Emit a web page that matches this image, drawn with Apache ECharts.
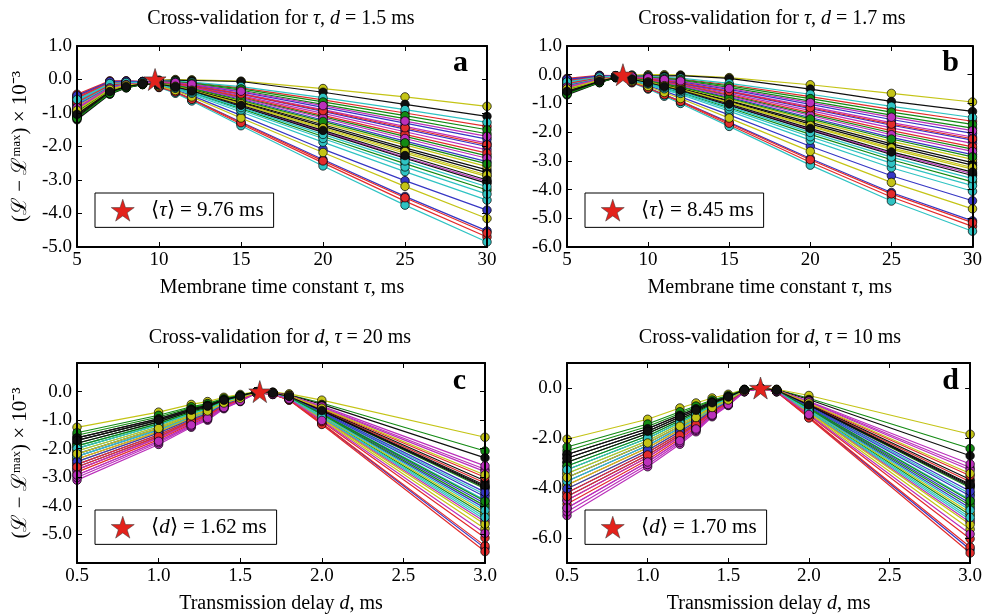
<!DOCTYPE html>
<html><head><meta charset="utf-8">
<script src="https://cdn.jsdelivr.net/npm/echarts@6/dist/echarts.min.js"></script>
<style>html,body{margin:0;padding:0;background:#fff}#c{width:985px;height:615px}</style>
</head><body><div id="c"></div>
<script>
// ---- data ----
const tauX = [5, 7, 8, 9, 10, 11, 12, 15, 20, 25, 30];
const delayX = [0.5, 1.0, 1.2, 1.3, 1.4, 1.5, 1.6, 1.7, 1.8, 2.0, 3.0];

// panel a: cross-validation for tau, d = 1.5 ms  (values at tauX)
const panelA = [
[-0.64,-0.15,-0.10,-0.08,-0.19,-0.31,-0.48,-1.07,-2.08,-3.02,-3.90],
[-1.12,-0.40,-0.23,-0.14,-0.06,-0.08,-0.13,-0.32,-0.74,-1.17,-1.62],
[-0.48,-0.06,-0.05,-0.06,-0.23,-0.39,-0.61,-1.33,-2.49,-3.63,-4.70],
[-0.60,-0.12,-0.09,-0.08,-0.24,-0.41,-0.64,-1.38,-2.58,-3.75,-4.85],
[-0.88,-0.27,-0.16,-0.11,-0.09,-0.13,-0.20,-0.48,-1.01,-1.56,-2.10],
[-1.08,-0.38,-0.22,-0.14,-0.02,0.00,-0.01,-0.05,-0.27,-0.52,-0.80],
[-1.20,-0.44,-0.25,-0.15,-0.03,-0.02,-0.03,-0.06,-0.38,-0.74,-1.10],
[-0.56,-0.10,-0.07,-0.07,-0.22,-0.37,-0.58,-1.27,-2.39,-3.49,-4.52],
[-1.00,-0.34,-0.20,-0.13,-0.10,-0.15,-0.23,-0.54,-1.11,-1.70,-2.28],
[-0.44,-0.04,-0.04,-0.06,-0.23,-0.37,-0.59,-1.29,-2.43,-3.53,-4.58],
[-0.68,-0.17,-0.11,-0.09,-0.17,-0.28,-0.44,-0.97,-1.87,-2.75,-3.60],
[-0.84,-0.25,-0.15,-0.11,-0.14,-0.22,-0.35,-0.79,-1.55,-2.32,-3.05],
[-0.96,-0.31,-0.18,-0.12,-0.20,-0.33,-0.52,-1.15,-2.18,-3.19,-4.15],
[-1.16,-0.42,-0.24,-0.15,-0.12,-0.19,-0.30,-0.67,-1.35,-2.04,-2.70],
[-0.72,-0.19,-0.12,-0.09,-0.11,-0.16,-0.26,-0.59,-1.21,-1.84,-2.45],
[-1.04,-0.36,-0.21,-0.13,-0.16,-0.25,-0.39,-0.87,-1.70,-2.51,-3.30],
[-0.52,-0.08,-0.06,-0.07,-0.05,-0.06,-0.09,-0.25,-0.61,-1.00,-1.40],
[-0.64,-0.15,-0.10,-0.08,-0.05,-0.05,-0.08,-0.21,-0.54,-0.90,-1.28],
[-0.92,-0.29,-0.17,-0.12,-0.08,-0.11,-0.17,-0.41,-0.90,-1.40,-1.90],
[-0.80,-0.23,-0.14,-0.10,-0.12,-0.18,-0.28,-0.64,-1.30,-1.95,-2.60],
[-1.12,-0.40,-0.23,-0.14,-0.15,-0.23,-0.36,-0.81,-1.58,-2.35,-3.10],
[-0.76,-0.21,-0.13,-0.10,-0.09,-0.12,-0.19,-0.44,-0.95,-1.48,-2.00],
[-0.96,-0.31,-0.18,-0.12,-0.06,-0.07,-0.11,-0.28,-0.67,-1.08,-1.50],
[-0.56,-0.10,-0.07,-0.07,-0.10,-0.14,-0.22,-0.51,-1.07,-1.64,-2.20],
[-0.72,-0.19,-0.12,-0.09,-0.16,-0.26,-0.41,-0.91,-1.76,-2.61,-3.42],
[-0.88,-0.27,-0.16,-0.11,-0.10,-0.15,-0.24,-0.56,-1.15,-1.76,-2.35],
[-1.00,-0.34,-0.20,-0.13,-0.13,-0.21,-0.33,-0.74,-1.47,-2.20,-2.90],
[-1.08,-0.38,-0.22,-0.14,-0.13,-0.20,-0.31,-0.70,-1.40,-2.10,-2.78],
[-0.48,-0.06,-0.05,-0.06,-0.07,-0.10,-0.15,-0.37,-0.83,-1.30,-1.78],
[-1.16,-0.42,-0.24,-0.15,-0.11,-0.17,-0.27,-0.62,-1.25,-1.89,-2.52],
[-0.68,-0.17,-0.11,-0.09,-0.08,-0.11,-0.18,-0.43,-0.93,-1.44,-1.95],
[-0.60,-0.12,-0.09,-0.08,-0.15,-0.24,-0.37,-0.84,-1.64,-2.43,-3.20],
[-0.84,-0.25,-0.15,-0.11,-0.07,-0.09,-0.14,-0.35,-0.78,-1.24,-1.70],
[-0.92,-0.29,-0.17,-0.12,-0.13,-0.20,-0.32,-0.72,-1.44,-2.15,-2.85],
[-1.04,-0.36,-0.21,-0.13,-0.14,-0.22,-0.34,-0.77,-1.52,-2.27,-3.00]
];

// panel b: cross-validation for tau, d = 1.7 ms
const panelB = [
[-0.28,-0.09,-0.05,-0.22,-0.38,-0.57,-0.77,-1.40,-2.49,-3.52,-4.39],
[-0.64,-0.25,-0.09,-0.06,-0.10,-0.15,-0.20,-0.44,-0.92,-1.41,-1.86],
[-0.16,-0.04,-0.04,-0.27,-0.48,-0.72,-0.96,-1.74,-3.05,-4.26,-5.28],
[-0.25,-0.08,-0.05,-0.28,-0.50,-0.75,-1.00,-1.80,-3.15,-4.40,-5.45],
[-0.46,-0.17,-0.07,-0.10,-0.16,-0.24,-0.32,-0.65,-1.25,-1.85,-2.39],
[-0.61,-0.24,-0.09,-0.01,0.00,0.00,-0.01,-0.10,-0.35,-0.65,-0.95],
[-0.70,-0.28,-0.10,-0.03,-0.04,-0.04,-0.03,-0.13,-0.50,-0.93,-1.28],
[-0.22,-0.06,-0.04,-0.26,-0.46,-0.69,-0.92,-1.66,-2.92,-4.10,-5.09],
[-0.55,-0.21,-0.08,-0.11,-0.18,-0.27,-0.37,-0.72,-1.37,-2.02,-2.59],
[-0.13,-0.02,-0.03,-0.26,-0.47,-0.70,-0.93,-1.69,-2.96,-4.15,-5.15],
[-0.31,-0.10,-0.05,-0.20,-0.35,-0.52,-0.69,-1.27,-2.28,-3.24,-4.06],
[-0.43,-0.16,-0.07,-0.16,-0.28,-0.42,-0.56,-1.05,-1.91,-2.74,-3.45],
[-0.52,-0.20,-0.08,-0.23,-0.41,-0.62,-0.83,-1.51,-2.67,-3.75,-4.67],
[-0.67,-0.27,-0.10,-0.14,-0.23,-0.35,-0.47,-0.90,-1.66,-2.41,-3.06],
[-0.34,-0.12,-0.06,-0.12,-0.20,-0.31,-0.41,-0.79,-1.49,-2.18,-2.78],
[-0.58,-0.23,-0.09,-0.18,-0.31,-0.46,-0.62,-1.15,-2.08,-2.96,-3.73],
[-0.19,-0.05,-0.04,-0.05,-0.07,-0.11,-0.15,-0.35,-0.76,-1.21,-1.62],
[-0.28,-0.09,-0.05,-0.04,-0.06,-0.09,-0.12,-0.30,-0.68,-1.10,-1.49],
[-0.49,-0.19,-0.08,-0.08,-0.14,-0.20,-0.27,-0.56,-1.11,-1.67,-2.17],
[-0.40,-0.15,-0.07,-0.13,-0.22,-0.33,-0.44,-0.85,-1.59,-2.32,-2.95],
[-0.64,-0.25,-0.09,-0.16,-0.28,-0.43,-0.57,-1.07,-1.94,-2.78,-3.51],
[-0.37,-0.13,-0.06,-0.09,-0.15,-0.22,-0.30,-0.60,-1.18,-1.76,-2.28],
[-0.52,-0.20,-0.08,-0.06,-0.09,-0.13,-0.17,-0.39,-0.83,-1.30,-1.73],
[-0.22,-0.06,-0.04,-0.10,-0.17,-0.26,-0.35,-0.69,-1.32,-1.95,-2.51],
[-0.34,-0.12,-0.06,-0.18,-0.32,-0.49,-0.65,-1.20,-2.16,-3.08,-3.86],
[-0.46,-0.17,-0.07,-0.11,-0.19,-0.29,-0.38,-0.75,-1.42,-2.09,-2.67],
[-0.55,-0.21,-0.08,-0.15,-0.26,-0.39,-0.52,-0.98,-1.80,-2.60,-3.29],
[-0.61,-0.24,-0.09,-0.14,-0.24,-0.37,-0.49,-0.93,-1.72,-2.48,-3.15],
[-0.16,-0.04,-0.04,-0.08,-0.12,-0.18,-0.24,-0.51,-1.03,-1.56,-2.04],
[-0.67,-0.27,-0.10,-0.12,-0.21,-0.32,-0.43,-0.82,-1.54,-2.24,-2.86],
[-0.31,-0.10,-0.05,-0.09,-0.14,-0.21,-0.28,-0.58,-1.15,-1.72,-2.23],
[-0.25,-0.08,-0.05,-0.17,-0.30,-0.44,-0.59,-1.11,-2.01,-2.87,-3.62],
[-0.43,-0.16,-0.07,-0.07,-0.11,-0.17,-0.22,-0.48,-0.97,-1.48,-1.95],
[-0.49,-0.19,-0.08,-0.15,-0.25,-0.38,-0.51,-0.96,-1.77,-2.55,-3.23],
[-0.58,-0.23,-0.09,-0.16,-0.27,-0.41,-0.54,-1.02,-1.87,-2.69,-3.39]
];

// panel c: cross-validation for d, tau = 20 ms (values at delayX)
const panelC = [
[-2.27,-1.34,-0.89,-0.71,-0.42,-0.24,-0.03,-0.10,-0.29,-1.12,-5.48],
[-1.53,-0.89,-0.57,-0.45,-0.26,-0.14,-0.01,-0.03,-0.11,-0.40,-2.08],
[-2.36,-1.40,-0.93,-0.74,-0.44,-0.25,-0.03,-0.10,-0.29,-1.11,-5.40],
[-2.18,-1.29,-0.85,-0.68,-0.40,-0.23,-0.03,-0.06,-0.20,-0.77,-3.80],
[-3.10,-1.85,-1.25,-1.00,-0.60,-0.35,-0.05,-0.04,-0.14,-0.54,-2.72],
[-1.25,-0.72,-0.45,-0.35,-0.20,-0.10,0.00,-0.02,-0.08,-0.30,-1.60],
[-1.62,-0.95,-0.61,-0.48,-0.28,-0.15,-0.01,-0.03,-0.12,-0.45,-2.32],
[-2.55,-1.51,-1.01,-0.81,-0.48,-0.28,-0.04,-0.07,-0.22,-0.83,-4.08],
[-1.81,-1.06,-0.69,-0.55,-0.32,-0.18,-0.02,-0.06,-0.18,-0.68,-3.40],
[-2.73,-1.62,-1.09,-0.87,-0.52,-0.30,-0.04,-0.10,-0.30,-1.15,-5.60],
[-2.08,-1.23,-0.81,-0.64,-0.38,-0.21,-0.02,-0.06,-0.19,-0.73,-3.60],
[-2.92,-1.74,-1.17,-0.94,-0.56,-0.33,-0.05,-0.04,-0.15,-0.56,-2.80],
[-2.45,-1.45,-0.97,-0.77,-0.46,-0.26,-0.03,-0.08,-0.26,-0.98,-4.80],
[-1.71,-1.00,-0.65,-0.51,-0.30,-0.16,-0.01,-0.05,-0.17,-0.67,-3.32],
[-2.64,-1.57,-1.05,-0.84,-0.50,-0.29,-0.04,-0.07,-0.21,-0.79,-3.92],
[-1.99,-1.17,-0.77,-0.61,-0.36,-0.20,-0.02,-0.07,-0.23,-0.88,-4.32],
[-2.82,-1.68,-1.13,-0.90,-0.54,-0.31,-0.04,-0.05,-0.17,-0.64,-3.20],
[-1.90,-1.12,-0.73,-0.58,-0.34,-0.19,-0.02,-0.08,-0.24,-0.91,-4.48],
[-3.01,-1.79,-1.21,-0.97,-0.58,-0.34,-0.05,-0.04,-0.14,-0.51,-2.60],
[-2.36,-1.40,-0.93,-0.74,-0.44,-0.25,-0.03,-0.07,-0.23,-0.86,-4.24],
[-1.81,-1.06,-0.69,-0.55,-0.32,-0.18,-0.02,-0.06,-0.18,-0.67,-3.36],
[-2.18,-1.29,-0.85,-0.68,-0.40,-0.23,-0.03,-0.06,-0.19,-0.74,-3.68],
[-1.44,-0.83,-0.53,-0.42,-0.24,-0.13,-0.01,-0.07,-0.21,-0.81,-4.00],
[-2.55,-1.51,-1.01,-0.81,-0.48,-0.28,-0.04,-0.09,-0.27,-1.05,-5.12],
[-2.27,-1.34,-0.89,-0.71,-0.42,-0.24,-0.03,-0.07,-0.22,-0.84,-4.16],
[-2.73,-1.62,-1.09,-0.87,-0.52,-0.30,-0.04,-0.08,-0.24,-0.93,-4.56],
[-2.08,-1.23,-0.81,-0.64,-0.38,-0.21,-0.02,-0.08,-0.25,-0.95,-4.64],
[-1.62,-0.95,-0.61,-0.48,-0.28,-0.15,-0.01,-0.05,-0.16,-0.62,-3.12],
[-2.45,-1.45,-0.97,-0.77,-0.46,-0.26,-0.03,-0.06,-0.19,-0.71,-3.52],
[-1.90,-1.12,-0.73,-0.58,-0.34,-0.19,-0.02,-0.06,-0.20,-0.78,-3.84],
[-2.64,-1.57,-1.05,-0.84,-0.50,-0.29,-0.04,-0.05,-0.16,-0.60,-3.00],
[-1.99,-1.17,-0.77,-0.61,-0.36,-0.20,-0.02,-0.08,-0.23,-0.90,-4.40],
[-2.92,-1.74,-1.17,-0.94,-0.56,-0.33,-0.05,-0.09,-0.26,-1.01,-4.96],
[-2.18,-1.29,-0.85,-0.68,-0.40,-0.23,-0.03,-0.05,-0.15,-0.58,-2.92],
[-1.71,-1.00,-0.65,-0.51,-0.30,-0.16,-0.01,-0.05,-0.17,-0.66,-3.28]
];

// panel d: cross-validation for d, tau = 10 ms
const panelD = [
[-3.73,-2.30,-1.60,-1.23,-0.81,-0.50,-0.11,-0.03,-0.15,-1.17,-6.46],
[-2.51,-1.54,-1.02,-0.77,-0.51,-0.32,-0.07,-0.01,-0.06,-0.41,-2.42],
[-3.88,-2.39,-1.67,-1.29,-0.85,-0.52,-0.11,-0.03,-0.15,-1.16,-6.36],
[-3.58,-2.20,-1.53,-1.18,-0.78,-0.48,-0.10,-0.02,-0.11,-0.80,-4.46],
[-5.10,-3.15,-2.25,-1.75,-1.15,-0.70,-0.15,-0.01,-0.08,-0.55,-3.18],
[-2.05,-1.25,-0.80,-0.60,-0.40,-0.25,-0.05,0.00,-0.05,-0.30,-1.85],
[-2.66,-1.63,-1.09,-0.83,-0.55,-0.34,-0.07,-0.01,-0.07,-0.46,-2.71],
[-4.19,-2.58,-1.82,-1.41,-0.93,-0.57,-0.12,-0.02,-0.11,-0.86,-4.80],
[-2.97,-1.82,-1.24,-0.95,-0.63,-0.39,-0.08,-0.01,-0.10,-0.71,-3.99],
[-4.49,-2.77,-1.96,-1.52,-1.00,-0.61,-0.13,-0.03,-0.15,-1.20,-6.60],
[-3.42,-2.11,-1.45,-1.12,-0.74,-0.45,-0.10,-0.02,-0.10,-0.75,-4.23],
[-4.80,-2.96,-2.11,-1.64,-1.08,-0.66,-0.14,-0.01,-0.08,-0.57,-3.28],
[-4.03,-2.49,-1.74,-1.35,-0.89,-0.54,-0.12,-0.02,-0.13,-1.02,-5.65],
[-2.81,-1.73,-1.16,-0.89,-0.59,-0.36,-0.08,-0.01,-0.09,-0.69,-3.89],
[-4.34,-2.68,-1.89,-1.46,-0.96,-0.59,-0.13,-0.02,-0.11,-0.82,-4.61],
[-3.27,-2.01,-1.38,-1.06,-0.70,-0.43,-0.09,-0.02,-0.12,-0.91,-5.08],
[-4.64,-2.87,-2.03,-1.58,-1.04,-0.63,-0.14,-0.01,-0.09,-0.66,-3.75],
[-3.12,-1.92,-1.31,-1.00,-0.66,-0.41,-0.09,-0.02,-0.12,-0.95,-5.27],
[-4.95,-3.06,-2.18,-1.69,-1.11,-0.68,-0.15,-0.01,-0.08,-0.53,-3.04],
[-3.88,-2.39,-1.67,-1.29,-0.85,-0.52,-0.11,-0.02,-0.12,-0.89,-4.99],
[-2.97,-1.82,-1.24,-0.95,-0.63,-0.39,-0.08,-0.01,-0.09,-0.70,-3.94],
[-3.58,-2.20,-1.53,-1.18,-0.78,-0.48,-0.10,-0.02,-0.10,-0.77,-4.32],
[-2.36,-1.44,-0.95,-0.72,-0.48,-0.30,-0.06,-0.02,-0.11,-0.84,-4.70],
[-4.19,-2.58,-1.82,-1.41,-0.93,-0.57,-0.12,-0.03,-0.14,-1.09,-6.03],
[-3.73,-2.30,-1.60,-1.23,-0.81,-0.50,-0.11,-0.02,-0.11,-0.88,-4.89],
[-4.49,-2.77,-1.96,-1.52,-1.00,-0.61,-0.13,-0.02,-0.12,-0.97,-5.37],
[-3.42,-2.11,-1.45,-1.12,-0.74,-0.45,-0.10,-0.02,-0.13,-0.98,-5.46],
[-2.66,-1.63,-1.09,-0.83,-0.55,-0.34,-0.07,-0.01,-0.09,-0.64,-3.66],
[-4.03,-2.49,-1.74,-1.35,-0.89,-0.54,-0.12,-0.02,-0.10,-0.73,-4.13],
[-3.12,-1.92,-1.31,-1.00,-0.66,-0.41,-0.09,-0.02,-0.11,-0.80,-4.51],
[-4.34,-2.68,-1.89,-1.46,-0.96,-0.59,-0.13,-0.01,-0.09,-0.62,-3.51],
[-3.27,-2.01,-1.38,-1.06,-0.70,-0.43,-0.09,-0.02,-0.12,-0.93,-5.18],
[-4.80,-2.96,-2.11,-1.64,-1.08,-0.66,-0.14,-0.03,-0.13,-1.06,-5.84],
[-3.58,-2.20,-1.53,-1.18,-0.78,-0.48,-0.10,-0.01,-0.08,-0.60,-3.42],
[-2.81,-1.73,-1.16,-0.89,-0.59,-0.36,-0.08,-0.01,-0.09,-0.68,-3.85]
];

const starPoints = [[9.76, 0], [8.45, 0], [1.62, 0], [1.70, 0]];
const starLabels = ['⟨τ⟩ = 9.76 ms', '⟨τ⟩ = 8.45 ms', '⟨d⟩ = 1.62 ms', '⟨d⟩ = 1.70 ms'];
const panelTitles = [
  'Cross-validation for {i|τ}, {i|d} = 1.5 ms',
  'Cross-validation for {i|τ}, {i|d} = 1.7 ms',
  'Cross-validation for {i|d}, {i|τ} = 20 ms',
  'Cross-validation for {i|d}, {i|τ} = 10 ms'
];
const panelLetters = ['a', 'b', 'c', 'd'];
const xNames = ['Membrane time constant {i|τ}, ms', 'Membrane time constant {i|τ}, ms',
                'Transmission delay {i|d}, ms', 'Transmission delay {i|d}, ms'];
const yName = '(ℒ − ℒᵐᵃˣ) × 10⁻³';
const xRanges = [[5, 30, 5], [5, 30, 5], [0.5, 3.0, 0.5], [0.5, 3.0, 0.5]];
const yRanges = [[-5, 1], [-6, 1], [-6, 1], [-7, 1]];
const yTickValues = [
  [-5, -4, -3, -2, -1, 0, 1],
  [-6, -5, -4, -3, -2, -1, 0, 1],
  [-5, -4, -3, -2, -1, 0],
  [-6, -4, -2, 0]
];

// ---- styling / layout ----
const COLORS = ['#3636c4', '#138a13', '#e32c2c', '#2fc3c3', '#bb30bb', '#c4c416', '#101010'];
const STAR_COLOR = '#e3221c';
const FONT = 'Liberation Serif';
const FS = 20;
const grids = [
  {left: 77, top: 46, width: 410, height: 201},
  {left: 567, top: 46, width: 410, height: 201},
  {left: 77, top: 363, width: 408, height: 201},
  {left: 567, top: 363, width: 408, height: 201}
];
const STAR = 'path://M50,0 L61.2,34.5 L97.6,34.5 L68.2,55.9 L79.4,90.5 L50,69.1 L20.6,90.5 L31.8,55.9 L2.4,34.5 L38.8,34.5 Z';
const italic = {fontStyle: 'italic', fontFamily: FONT, fontSize: FS, color: '#000'};

const xAxes = [], yAxes = [], series = [], legends = [], graphics = [];
const panels = [[tauX, panelA], [tauX, panelB], [delayX, panelC], [delayX, panelD]];

panels.forEach(([xs, rows], p) => {
  const [xmin, xmax, xint] = xRanges[p];
  const [ymin, ymax] = yRanges[p];
  const isDelay = p >= 2;
  const tickCommon = {show: true, inside: true, length: 5, lineStyle: {color: '#000', width: 1}};
  const border = {show: true, onZero: false, lineStyle: {color: '#000', width: 2}};
  xAxes.push({
    type: 'value', gridIndex: p, min: xmin, max: xmax, interval: xint, position: 'bottom', z: 10,
    axisLine: border, axisTick: tickCommon, splitLine: {show: false},
    axisLabel: {color: '#000', fontFamily: FONT, fontSize: 19, margin: 4,
      formatter: v => isDelay ? v.toFixed(1) : String(v)},
    name: xNames[p], nameLocation: 'middle', nameGap: 31,
    nameTextStyle: {color: '#000', fontFamily: FONT, fontSize: FS, rich: {i: italic}}
  });
  yAxes.push({
    type: 'value', gridIndex: p, min: ymin, max: ymax, position: 'left', z: 10,
    axisLine: border, splitLine: {show: false},
    axisTick: Object.assign({customValues: yTickValues[p]}, tickCommon),
    axisLabel: {color: '#000', fontFamily: FONT, fontSize: 19, margin: 5,
      customValues: yTickValues[p], formatter: v => v.toFixed(1)},
    name: (p % 2 === 0) ? yName : '', nameLocation: 'middle', nameGap: 46, nameRotate: 90,
    nameTextStyle: {color: '#000', fontFamily: FONT, fontSize: 21}
  });
  series.push(...rows.map((row, i) => {
    const c = COLORS[i % COLORS.length];
    return {
      type: 'line', xAxisIndex: p, yAxisIndex: p,
      data: xs.map((x, j) => [x, row[j]]),
      symbol: 'circle', symbolSize: 8.5, showSymbol: true, showAllSymbol: true,
      lineStyle: {color: c, width: 1.2}, itemStyle: {color: c, borderColor: '#000', borderWidth: 0.7},
      silent: true, animation: false, emphasis: {disabled: true}, z: 2
    };
  }));
  series.push({
    type: 'scatter', name: starLabels[p], xAxisIndex: p, yAxisIndex: p,
    data: [starPoints[p]], symbol: STAR, symbolSize: 22,
    itemStyle: {color: STAR_COLOR, opacity: 1, borderColor: '#333', borderWidth: 0.6},
    silent: true, animation: false, z: 5
  });
  const g = grids[p];
  legends.push({
    data: [{name: starLabels[p], icon: STAR,
      itemStyle: {color: STAR_COLOR, opacity: 1, borderColor: '#333', borderWidth: 0.5}}],
    left: g.left + 18, top: g.top + 147,
    orient: 'horizontal', selectedMode: false,
    borderColor: '#000', borderWidth: 1, borderRadius: 0, backgroundColor: '#fff',
    padding: [6, 10, 6, 16], itemWidth: 23, itemHeight: 22, z: 20,
    formatter: name => name.replace(/⟨(.)⟩/, '⟨{i|$1}⟩'),
    textStyle: {color: '#000', fontFamily: FONT, fontSize: 21, padding: [0, 0, 0, 12],
      rich: {i: Object.assign({}, italic, {fontSize: 21})}}
  });
});

// top and right axes (tick marks only, matplotlib style)
panels.forEach((_, p) => {
  const [xmin, xmax, xint] = xRanges[p];
  const [ymin, ymax] = yRanges[p];
  const tickCommon = {show: true, inside: true, length: 5, lineStyle: {color: '#000', width: 1}};
  const border = {show: true, onZero: false, lineStyle: {color: '#000', width: 2}};
  xAxes.push({type: 'value', gridIndex: p, min: xmin, max: xmax, interval: xint, position: 'top', z: 10,
    axisLine: border, axisTick: tickCommon, axisLabel: {show: false}, splitLine: {show: false}});
  yAxes.push({type: 'value', gridIndex: p, min: ymin, max: ymax, position: 'right', z: 10,
    axisLine: border, axisTick: Object.assign({customValues: yTickValues[p]}, tickCommon),
    axisLabel: {show: false, customValues: yTickValues[p]}, splitLine: {show: false}});
});

const titleCenters = [[281, 19], [772, 19], [280, 338], [770, 338]];
const letterPos = [[468, 63], [959, 63], [466, 381], [959, 381]];
panels.forEach((_, p) => {
  graphics.push({
    type: 'text', x: titleCenters[p][0], y: titleCenters[p][1], z: 30,
    style: {text: panelTitles[p], fill: '#000', font: FS + 'px "' + FONT + '"',
      align: 'center', verticalAlign: 'middle',
      rich: {i: {fontStyle: 'italic', fontFamily: FONT, fontSize: FS, fill: '#000'}}}
  });
  graphics.push({
    type: 'text', x: letterPos[p][0], y: letterPos[p][1], z: 30,
    style: {text: panelLetters[p], fill: '#000', font: 'bold 30px "' + FONT + '"',
      align: 'right', verticalAlign: 'middle'}
  });
});

const chart = echarts.init(document.getElementById('c'), null, {renderer: 'canvas'});
chart.setOption({
  backgroundColor: '#fff',
  animation: false,
  grid: grids.map(g => Object.assign({show: false}, g)),
  xAxis: xAxes,
  yAxis: yAxes,
  legend: legends,
  series: series,
  graphic: graphics
});
</script></body></html>
